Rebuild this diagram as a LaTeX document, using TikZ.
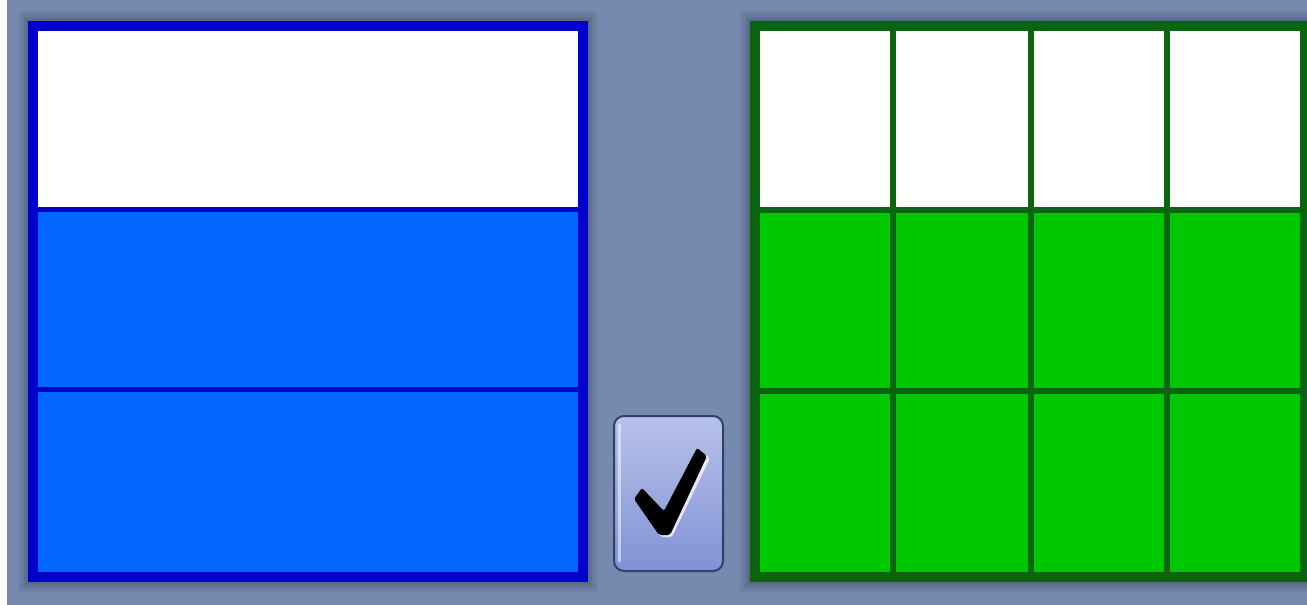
\documentclass[tikz,border=0pt]{standalone}
\usetikzlibrary{calc}
\definecolor{bg}{RGB}{118,138,176}
\definecolor{bluefill}{RGB}{0,102,255}
\definecolor{blueline}{RGB}{0,0,204}
\definecolor{greenfill}{RGB}{0,200,0}
\definecolor{greenline}{RGB}{10,100,16}
\definecolor{btntop}{RGB}{184,194,234}
\definecolor{btnbot}{RGB}{128,146,212}
\definecolor{btnline}{RGB}{48,64,104}
\tikzset{
  halo/.style={draw=black, opacity=0.06},
  bluegrid/.style={draw=blueline, line width=5pt},
  greengrid/.style={draw=greenline, line width=6pt},
}
\begin{document}
\begin{tikzpicture}[x=1pt,y=-1pt]
\useasboundingbox (0,0) rectangle (1307,605);
\fill[bg] (0,0) rectangle (1307,605);
\fill[white] (0,0) rectangle (7,605);
% soft shadows
\foreach \w in {30,24,18,14}{
  \draw[halo, line width=\w pt] (33,26) rectangle (583,577);
  \draw[halo, line width=\w pt] (755,26) rectangle (1312,577);
}
% left box
\fill[white] (33,26) rectangle (583,209);
\fill[bluefill] (33,209) rectangle (583,577);
\draw[bluegrid] (33,209) -- (583,209);
\draw[bluegrid] (33,389) -- (583,389);
\draw[draw=blueline, line width=10pt] (33,26) rectangle (583,577);
% right box
\fill[white] (755,26) rectangle (1305,210);
\fill[greenfill] (755,210) rectangle (1305,577);
\foreach \xx in {892.5,1031,1166.5}{
  \draw[greengrid] (\xx,26) -- (\xx,577);
}
\draw[greengrid] (755,210) -- (1305,210);
\draw[greengrid] (755,391) -- (1305,391);
\draw[draw=greenline, line width=10pt] (755,26) rectangle (1305,577);
% check button
\shade[top color=btntop, bottom color=btnbot, rounded corners=10pt]
  (614,416) rectangle (723,571);
\draw[btnline, line width=2pt, rounded corners=10pt] (614,416) rectangle (723,571);
\draw[white, opacity=0.5, line width=3pt, rounded corners=8pt] (619,424) -- (619,562);
\fill[white, opacity=0.75, rounded corners=2pt]
  (636,501) -- (644,490) -- (666,513) -- (699,450) -- (710,458) -- (672,537) -- (661,537) -- cycle;
\fill[black, rounded corners=2pt]
  (634,499) -- (642,488) -- (664,511) -- (697,448) -- (707,456) -- (670,535) -- (659,535) -- cycle;
\end{tikzpicture}
\end{document}
